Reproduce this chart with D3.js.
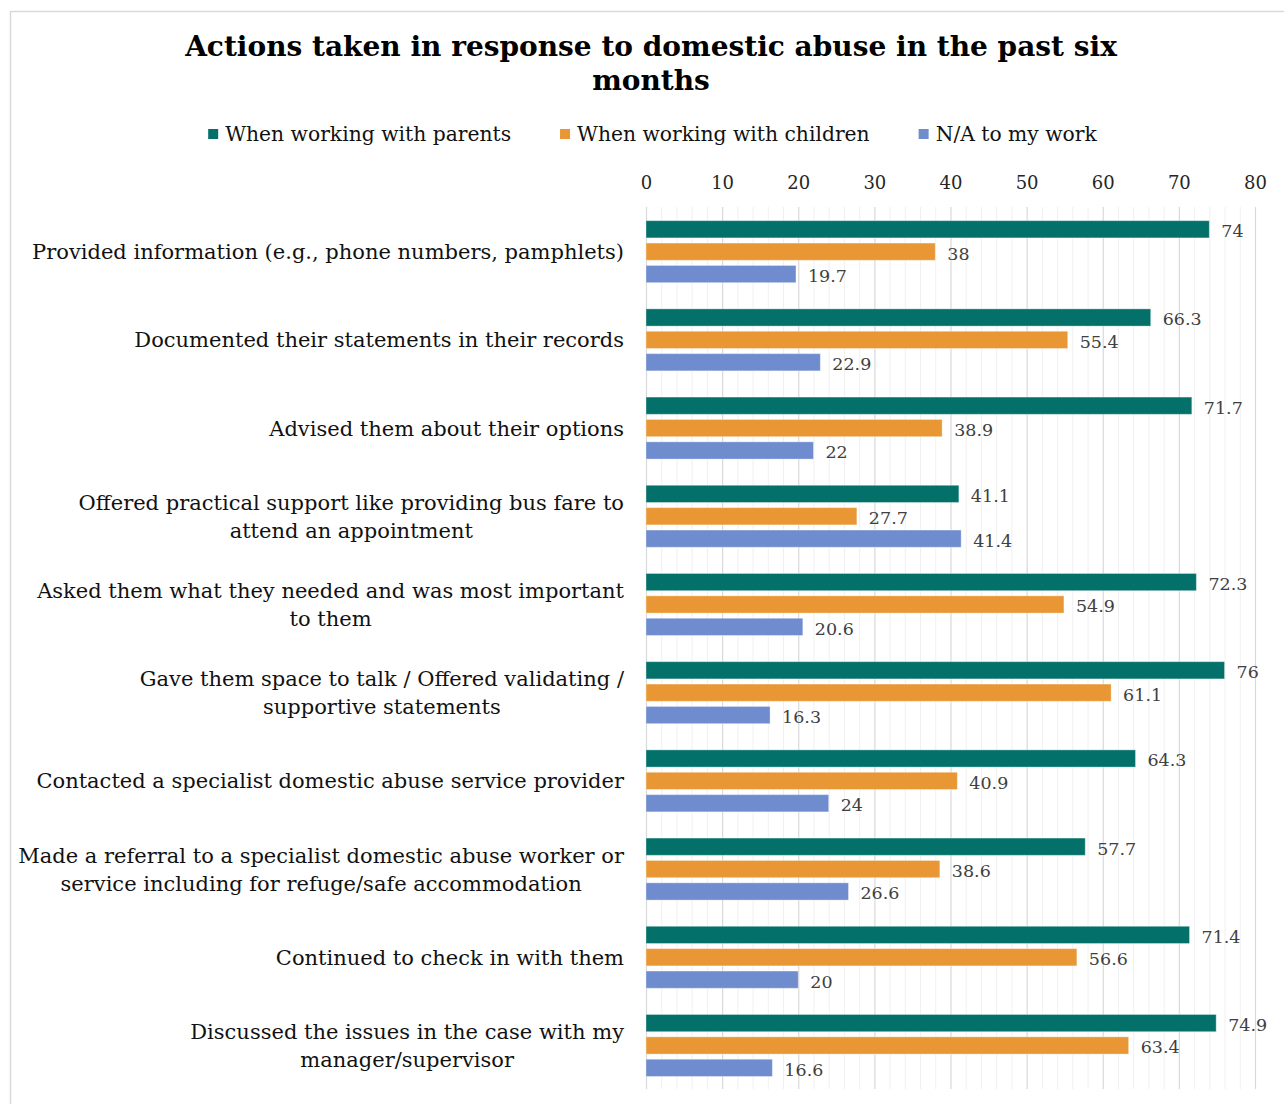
<!DOCTYPE html>
<html>
<head>
<meta charset="utf-8">
<script src="https://cdn.jsdelivr.net/npm/d3@7"></script>
<style>
  html, body { margin: 0; padding: 0; background: #fff; }
  svg { display: block; }
</style>
</head>
<body>
<svg id="chart" width="1284" height="1104"></svg>
<script>
const categories = [
  ["Provided information (e.g., phone numbers, pamphlets)"],
  ["Documented their statements in their records"],
  ["Advised them about their options"],
  ["Offered practical support like providing bus fare to", "attend an appointment"],
  ["Asked them what they needed and was most important", "to them"],
  ["Gave them space to talk / Offered validating /", "supportive statements"],
  ["Contacted a specialist domestic abuse service provider"],
  ["Made a referral to a specialist domestic abuse worker or", "service including for refuge/safe accommodation"],
  ["Continued to check in with them"],
  ["Discussed the issues in the case with my", "manager/supervisor"]
];
const seriesNames = ["When working with parents", "When working with children", "N/A to my work"];
const parents  = [74, 66.3, 71.7, 41.1, 72.3, 76, 64.3, 57.7, 71.4, 74.9];
const children = [38, 55.4, 38.9, 27.7, 54.9, 61.1, 40.9, 38.6, 56.6, 63.4];
const naWork   = [19.7, 22.9, 22, 41.4, 20.6, 16.3, 24, 26.6, 20, 16.6];
const tickValues = [0, 10, 20, 30, 40, 50, 60, 70, 80];
const colors = ["#03716A", "#E89734", "#6F8CCF"];
const title = ["Actions taken in response to domestic abuse in the past six", "months"];

const FONT = "'DejaVu Serif', Georgia, serif";
const svg = d3.select("#chart");

// chart border
svg.append("rect").attr("x", 10.5).attr("y", 11.5).attr("width", 1400).attr("height", 1300)
  .attr("fill", "none").attr("stroke", "#d9d9d9").attr("stroke-width", 1.5);

const catKeys = categories.map((c, i) => i);
const x = d3.scaleLinear().domain([0, 80]).range([646, 1255]);
const y = d3.scaleBand().domain(catKeys).range([207, 1089]);
const bw = y.bandwidth();
const y1 = d3.scaleBand().domain([0, 1, 2]).range([bw * 0.155, bw * 0.858]).paddingInner(0.23);

// gridlines
const g = svg.append("g");
g.selectAll("line.minor").data(d3.range(0, 81, 2).filter(v => v % 10 !== 0)).join("line")
  .attr("x1", d => x(d) + 0.5).attr("x2", d => x(d) + 0.5)
  .attr("y1", 207).attr("y2", 1089).attr("stroke", "#f0f0f0").attr("stroke-width", 1);
g.selectAll("line.major").data(tickValues).join("line")
  .attr("x1", d => x(d) + 0.5).attr("x2", d => x(d) + 0.5)
  .attr("y1", 207).attr("y2", 1089).attr("stroke", "#d9d9d9").attr("stroke-width", 1.2);

// top axis labels
const axis = d3.axisTop(x).tickValues(tickValues).tickSize(0).tickPadding(0).tickFormat(d3.format("d"));
const axG = svg.append("g").attr("transform", "translate(0,189)").call(axis);
axG.select(".domain").remove();
axG.selectAll("text").attr("font-family", FONT).attr("font-size", 18).attr("fill", "#262626");

// bars
const seriesData = [parents, children, naWork];
seriesData.forEach((vals, s) => {
  const sg = svg.append("g");
  sg.selectAll("rect").data(vals).join("rect")
    .attr("x", x(0))
    .attr("y", (d, i) => y(i) + y1(s))
    .attr("width", d => x(d) - x(0))
    .attr("height", y1.bandwidth())
    .attr("fill", colors[s])
    .attr("stroke", "#ffffff").attr("stroke-opacity", 0.35).attr("stroke-width", 1);
  sg.selectAll("text").data(vals).join("text")
    .attr("x", d => x(d) + 12)
    .attr("y", (d, i) => y(i) + y1(s) + y1.bandwidth() / 2 + 2)
    .attr("dominant-baseline", "central")
    .attr("font-family", FONT).attr("font-size", 17.5).attr("fill", "#404040")
    .text(d => d);
});

// category labels
const labelRight = 624;
categories.forEach((lines, i) => {
  const cy = y(i) + bw / 2 + 1;
  const tg = svg.append("g");
  const texts = lines.map((t, j) => tg.append("text")
    .attr("font-family", FONT).attr("font-size", 21).attr("fill", "#111")
    .attr("text-anchor", "middle").attr("dominant-baseline", "central")
    .attr("y", cy + (j - (lines.length - 1) / 2) * 28)
    .text(t));
  const maxW = d3.max(texts, t => t.node().getComputedTextLength());
  texts.forEach(t => t.attr("x", labelRight - maxW / 2));
});

// title
title.forEach((t, j) => {
  svg.append("text").attr("x", 651).attr("y", 56 + j * 34)
    .attr("text-anchor", "middle").attr("font-family", FONT)
    .attr("font-weight", "bold").attr("font-size", 28).attr("fill", "#000")
    .text(t);
});

// legend
const legG = svg.append("g");
const items = seriesNames.map((n, s) => {
  const it = legG.append("g");
  it.append("rect").attr("x", 0).attr("y", -5).attr("width", 10).attr("height", 10).attr("fill", colors[s]);
  const tx = it.append("text").attr("x", 17).attr("y", 0).attr("dominant-baseline", "central")
    .attr("font-family", FONT).attr("font-size", 20.3).attr("fill", "#111").text(n);
  return { it, w: 17 + tx.node().getComputedTextLength() };
});
const gap = 49;
const total = d3.sum(items, d => d.w) + gap * (items.length - 1);
let cx = 652.5 - total / 2;
items.forEach(d => { d.it.attr("transform", `translate(${cx},134)`); cx += d.w + gap; });
</script>
</body>
</html>
